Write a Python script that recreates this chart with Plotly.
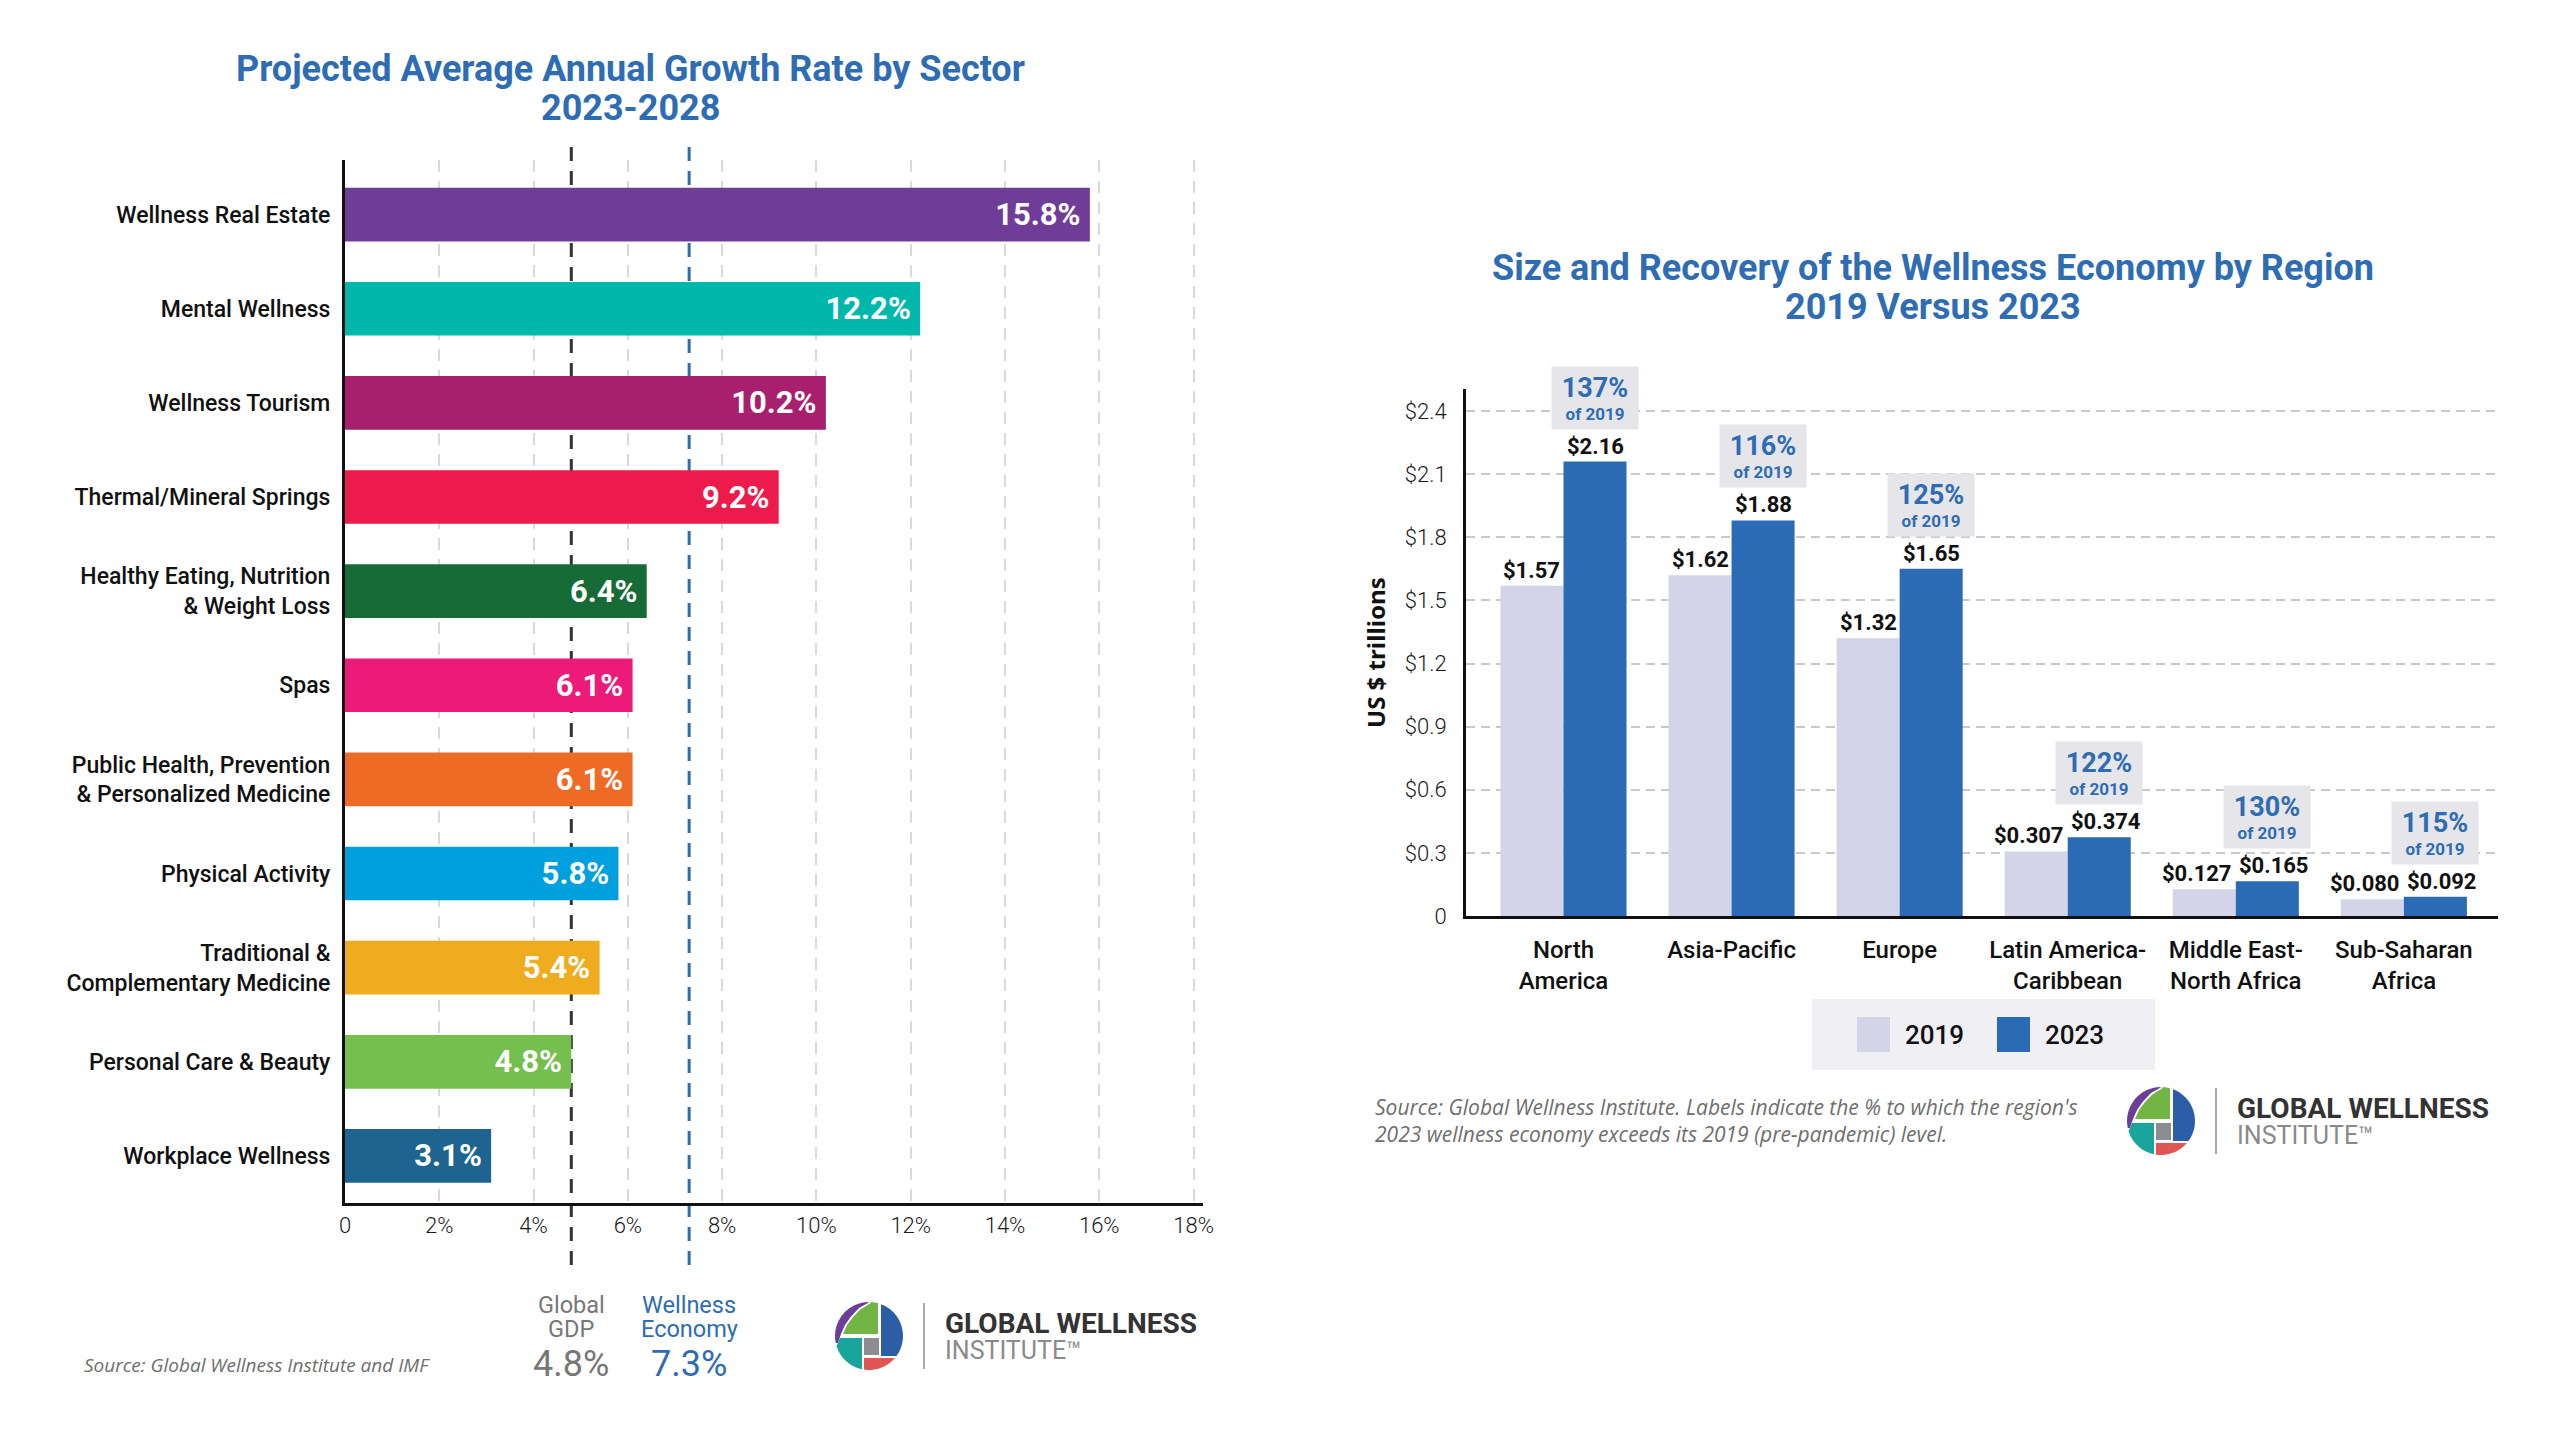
import math
import plotly.graph_objects as go

W, H = 2560, 1433
PAGE_OFFSET = 8  # the html body margin shifts the figure by 8px
FONT = "Roboto"
SRC_FONT = "Open Sans"
BLUE_TXT = "#2e6cb3"

# ---- left chart data ----
sectors = [
    "Wellness Real Estate", "Mental Wellness", "Wellness Tourism",
    "Thermal/Mineral Springs", "Healthy Eating, Nutrition<br>& Weight Loss",
    "Spas", "Public Health, Prevention<br>& Personalized Medicine",
    "Physical Activity", "Traditional &<br>Complementary Medicine",
    "Personal Care & Beauty", "Workplace Wellness",
]
growth = [15.8, 12.2, 10.2, 9.2, 6.4, 6.1, 6.1, 5.8, 5.4, 4.8, 3.1]
sector_colors = [
    "#6f3d97", "#00b7ab", "#a81f6e", "#ec1b4b", "#166b37", "#ec1a78",
    "#ee6b25", "#00a0df", "#efac1f", "#75bf4e", "#1e6490",
]
growth_ticks = [0, 2, 4, 6, 8, 10, 12, 14, 16, 18]
growth_ticktext = ["0", "2%", "4%", "6%", "8%", "10%", "12%", "14%", "16%", "18%"]
gdp_growth = 4.8
wellness_growth = 7.3

# ---- right chart data ----
regions = [
    "North<br>America", "Asia-Pacific", "Europe", "Latin America-<br>Caribbean",
    "Middle East-<br>North Africa", "Sub-Saharan<br>Africa",
]
size_2019 = [1.57, 1.62, 1.32, 0.307, 0.127, 0.080]
size_2023 = [2.16, 1.88, 1.65, 0.374, 0.165, 0.092]
recovery_pct = [137, 116, 125, 122, 130, 115]
size_ticks = [0, 0.3, 0.6, 0.9, 1.2, 1.5, 1.8, 2.1, 2.4]
size_ticktext = ["0", "$0.3", "$0.6", "$0.9", "$1.2", "$1.5", "$1.8", "$2.1", "$2.4"]
color_2019 = "#d4d4e9"
color_2023 = "#2b6bb6"


def px(x):
    return (x - PAGE_OFFSET) / W


def py(y):
    return 1 - (y - PAGE_OFFSET) / H


def money(v):
    return f"${v:.2f}" if v >= 1 else f"${v:.3f}"


def note(x, y, text, font, xanchor="center", yanchor="middle", **kw):
    return dict(x=px(x), y=py(y), xref="paper", yref="paper", text=text, showarrow=False,
                xanchor=xanchor, yanchor=yanchor, font=font, **kw)


fig = go.Figure()

fig.add_trace(go.Bar(
    y=sectors, x=growth, orientation="h", width=0.57,
    marker=dict(color=sector_colors, line_width=0),
    texttemplate="%{x:.1f}%\u2009", textposition="inside", insidetextanchor="end",
    constraintext="none",
    textfont=dict(family=FONT, size=31, color="white", weight="bold"),
    xaxis="x", yaxis="y", hoverinfo="skip", showlegend=False,
))

for vals, col, name in [(size_2019, color_2019, "2019"), (size_2023, color_2023, "2023")]:
    fig.add_trace(go.Bar(
        x=regions, y=vals, name=name, marker=dict(color=col, line_width=0),
        xaxis="x2", yaxis="y2", hoverinfo="skip", showlegend=False,
    ))

bargap = 0.25
offset = (1 - bargap) / 4
shapes = []
annotations = []

# value labels above the region bars; the long ones are nudged apart
for side, vals in [(-1, size_2019), (1, size_2023)]:
    for i, v in enumerate(vals):
        annotations.append(dict(
            x=i + side * offset, y=v, xref="x2", yref="y2", xanchor="center", yanchor="bottom",
            xshift=side * 7 if v < 1 else 0, yshift=1, showarrow=False,
            text=f"<b>{money(v)}</b>", font=dict(family=FONT, size=22, color="#111"),
        ))

# reference lines on the left chart
for val, col in [(gdp_growth, "#333333"), (wellness_growth, BLUE_TXT)]:
    shapes.append(dict(type="line", xref="x", yref="paper", x0=val, x1=val,
                       y0=py(147), y1=py(1274), layer="below",
                       line=dict(color=col, width=3, dash="14px,10px")))

for val, col, lines in [(gdp_growth, "#777777", ["Global", "GDP"]),
                        (wellness_growth, BLUE_TXT, ["Wellness", "Economy"])]:
    for ypos, line in zip([1305, 1329], lines):
        annotations.append(dict(x=val, xref="x", y=py(ypos), yref="paper", text=line,
                                showarrow=False, xanchor="center", yanchor="middle",
                                font=dict(family=FONT, size=23.5, color=col)))
    annotations.append(dict(x=val, xref="x", y=py(1364), yref="paper", text=f"{val}%",
                            showarrow=False, xanchor="center", yanchor="middle",
                            font=dict(family=FONT, size=36, color=col)))

# titles
title_font = dict(family=FONT, size=36, color=BLUE_TXT)
annotations += [
    note(630, 69, "<b>Projected Average Annual Growth Rate by Sector</b>", title_font),
    note(630, 108, "<b>2023-2028</b>", title_font),
    note(1933, 268, "<b>Size and Recovery of the Wellness Economy by Region</b>", title_font),
    note(1933, 307, "<b>2019 Versus 2023</b>", title_font),
    note(1375, 653, "<b>US $ trillions</b>", dict(family=SRC_FONT, size=24, color="#111"),
         textangle=-90),
]

# recovery boxes above the 2023 bars
for i, (v, p) in enumerate(zip(size_2023, recovery_pct)):
    annotations.append(dict(
        x=i + offset, y=v, xref="x2", yref="y2", xanchor="center", yanchor="bottom", yshift=32,
        showarrow=False, width=84, height=60, bgcolor="#e5e5ea",
        text=f"<span style='font-size:27px'><b>{p}%</b></span><br><b>of 2019</b>",
        font=dict(family=FONT, size=17, color=BLUE_TXT),
    ))

# legend drawn as a box
shapes.append(dict(type="rect", xref="paper", yref="paper", x0=px(1812), x1=px(2155),
                   y0=py(1070), y1=py(999), fillcolor="#f0f0f4", line_width=0, layer="below"))
for x0, col, label in [(1857, color_2019, "2019"), (1997, color_2023, "2023")]:
    shapes.append(dict(type="rect", xref="paper", yref="paper", x0=px(x0), x1=px(x0 + 33),
                       y0=py(1052), y1=py(1017), fillcolor=col, line_width=0))
    annotations.append(note(x0 + 46, 1035, label,
                            dict(family=FONT, size=26, color="#111", weight=500),
                            xanchor="left"))

# sources
annotations += [
    note(82, 1365, "<i>Source: Global Wellness Institute and IMF</i>",
         dict(family=SRC_FONT, size=19, color="#6e6e6e"), xanchor="left"),
    note(1373, 1120,
         "<i>Source: Global Wellness Institute. Labels indicate the % to which the region's<br>"
         "2023 wellness economy exceeds its 2019 (pre-pandemic) level.</i>",
         dict(family=SRC_FONT, size=21, color="#6e6e6e"), xanchor="left", align="left"),
]


def arc(cx, cy, r, a0, a1, n=16):
    pts = []
    for k in range(n + 1):
        a = math.radians(a0 + (a1 - a0) * k / n)
        pts.append((cx + r * math.cos(a), cy + r * math.sin(a)))
    return pts


def path_of(pts):
    return "M " + " L ".join(f"{px(x):.5f},{py(y):.5f}" for x, y in pts) + " Z"


def logo(cx, cy, r=34):
    s = r / 34.0

    def rel(pts):
        return [(cx + x * s, cy + y * s) for x, y in pts]

    pieces = [
        ("#6b3f98", arc(0, 0, 34, 270, 168) +
         [(-31, 7), (-28, -2), (-24, -11), (-18, -19.5), (-10, -28), (-1, -33)]),
        ("#73b544", arc(0, 0, 34, 273.4, 285.3, 4) +
         [(9, -2), (-26, -2), (-22, -11), (-16, -19), (-8, -27), (1, -32.5)]),
        ("#2b5ea7", arc(0, 0, 34, 290.7, 396) + [(12, 20)]),
        ("#1aa59c", [(-7, 2), (-29, 2), (-32.4, 10)] + arc(0, 0, 34, 163, 101.9)),
        ("#8c8c91", [(-5, 2), (10, 2), (10, 19), (-5, 19)]),
        ("#e05652", [(-5, 22)] + arc(0, 0, 34, 40.3, 98.5, 10)),
    ]
    out = []
    for col, pts in pieces:
        out.append(dict(type="path", xref="paper", yref="paper", path=path_of(rel(pts)),
                        fillcolor=col, line_width=0))
    out.append(dict(type="line", xref="paper", yref="paper", x0=px(cx + 55), x1=px(cx + 55),
                    y0=py(cy - 33), y1=py(cy + 33), line=dict(color="#a9a9a9", width=2)))
    txt = [
        note(cx + 74, cy - 13, "<b>GLOBAL WELLNESS</b>",
             dict(family=FONT, size=28, color="#333333"), xanchor="left"),
        note(cx + 74, cy + 14, "INSTITUTE\u2122",
             dict(family=FONT, size=25, color="#8a8a8a"), xanchor="left"),
    ]
    return out, txt


for cx, cy in [(869, 1336), (2161, 1121)]:
    sh, tx = logo(cx, cy)
    shapes += sh
    annotations += tx

axis_font = dict(family=FONT, size=22, color="#1a1a1a", weight=300)
label_font = dict(family=FONT, size=23, color="#111111", weight=500)

fig.update_layout(
    width=W, height=H,
    margin=dict(l=0, r=0, t=0, b=0, autoexpand=False),
    paper_bgcolor="white", plot_bgcolor="white",
    barmode="group", bargap=bargap, bargroupgap=0,
    font=dict(family=FONT),
    shapes=shapes, annotations=annotations,
    xaxis=dict(
        domain=[px(345), px(1203)], anchor="y", range=[0, 18.2], automargin=False,
        tickmode="array", tickvals=growth_ticks, ticktext=growth_ticktext,
        showgrid=True, gridcolor="#d9d9d9", gridwidth=2, griddash="12px,9px",
        showline=True, linecolor="#111", linewidth=3, zeroline=False, ticks="",
        tickfont=axis_font, ticklabelstandoff=1, fixedrange=True,
    ),
    yaxis=dict(
        domain=[py(1203), py(160)], anchor="x", type="category", range=[10.5, -0.58],
        automargin=False,
        showline=True, linecolor="#111", linewidth=3, showgrid=False, zeroline=False,
        ticks="", tickfont=label_font, ticklabelstandoff=7, fixedrange=True,
    ),
    xaxis2=dict(
        domain=[px(1466), px(2498)], anchor="y2", type="category", range=[-0.58, 5.56],
        automargin=False,
        showline=True, linecolor="#111", linewidth=3, showgrid=False, zeroline=False,
        ticks="", tickfont=dict(family=FONT, size=24, color="#111111", weight=500),
        ticklabelstandoff=10, fixedrange=True,
    ),
    yaxis2=dict(
        domain=[py(916), py(389)], anchor="x2", range=[0, 2.505], automargin=False,
        tickmode="array", tickvals=size_ticks, ticktext=size_ticktext,
        showgrid=True, gridcolor="#c9c9c9", gridwidth=2, griddash="9px,6px",
        showline=True, linecolor="#111", linewidth=3, zeroline=False, ticks="",
        tickfont=axis_font, ticklabelstandoff=12, fixedrange=True,
    ),
)

fig.write_html("out.html")
